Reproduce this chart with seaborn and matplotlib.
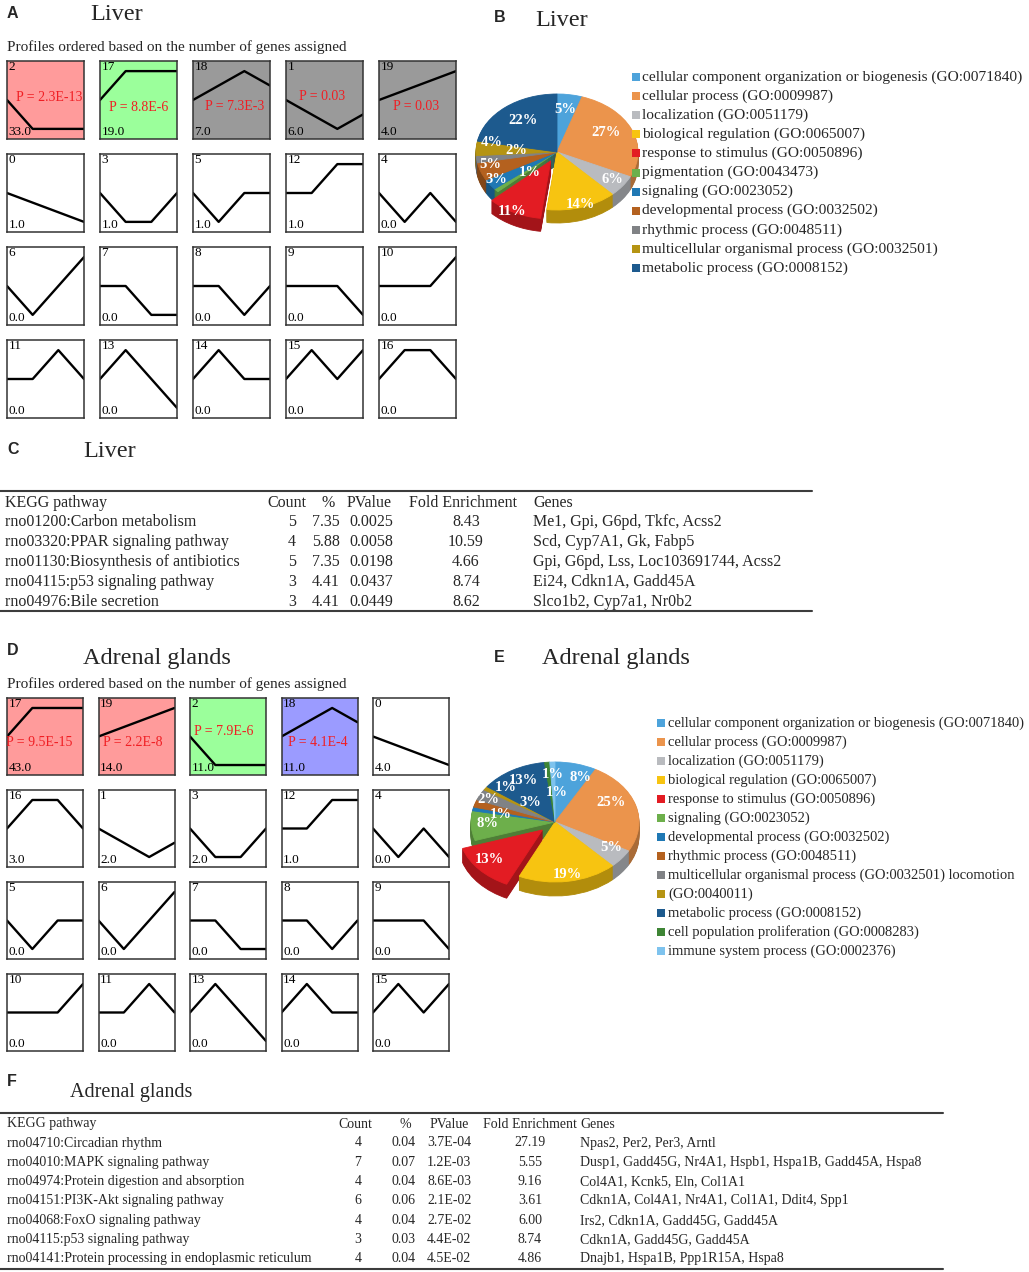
import numpy as np
import pandas as pd
import matplotlib
matplotlib.use("Agg")
import matplotlib.pyplot as plt
import matplotlib.colors as mcolors
from matplotlib.patches import Rectangle
import seaborn as sns

sns.set_theme(style="white")
plt.rcParams['font.family'] = ['Liberation Serif', 'DejaVu Serif']

W, H = 1029, 1272

# ---------------- DATA ----------------
# STEM model profiles (4 time points)
profile_shapes = {
    0: [0, -1, -2, -3], 1: [0, -1, -2, -1], 2: [0, -1, -1, -1], 3: [0, -1, -1, 0],
    4: [0, -1, 0, -1], 5: [0, -1, 0, 0], 6: [0, -1, 0, 1], 7: [0, 0, -1, -1],
    8: [0, 0, -1, 0], 9: [0, 0, 0, -1], 10: [0, 0, 0, 1], 11: [0, 0, 1, 0],
    12: [0, 0, 1, 1], 13: [0, 1, 0, -1], 14: [0, 1, 0, 0], 15: [0, 1, 0, 1],
    16: [0, 1, 1, 0], 17: [0, 1, 1, 1], 18: [0, 1, 2, 1], 19: [0, 1, 2, 3],
}

liver_order = [2, 17, 18, 1, 19, 0, 3, 5, 12, 4, 6, 7, 8, 9, 10, 11, 13, 14, 15, 16]
liver_counts = [33, 19, 7, 6, 4, 1, 1, 1, 1, 0, 0, 0, 0, 0, 0, 0, 0, 0, 0, 0]
liver_pvals = ["2.3E-13", "8.8E-6", "7.3E-3", "0.03", "0.03"]
liver_kinds = ["red", "green", "gray", "gray", "gray"] + ["none"] * 15

adrenal_order = [17, 19, 2, 18, 0, 16, 1, 3, 12, 4, 5, 6, 7, 8, 9, 10, 11, 13, 14, 15]
adrenal_counts = [43, 14, 11, 11, 4, 3, 2, 2, 1, 0, 0, 0, 0, 0, 0, 0, 0, 0, 0, 0]
adrenal_pvals = ["9.5E-15", "2.2E-8", "7.9E-6", "4.1E-4"]
adrenal_kinds = ["red", "red", "green", "blue"] + ["none"] * 16

liver_go_terms = [
    "cellular component organization or biogenesis (GO:0071840)",
    "cellular process (GO:0009987)",
    "localization (GO:0051179)",
    "biological regulation (GO:0065007)",
    "response to stimulus (GO:0050896)",
    "pigmentation (GO:0043473)",
    "signaling (GO:0023052)",
    "developmental process (GO:0032502)",
    "rhythmic process (GO:0048511)",
    "multicellular organismal process (GO:0032501)",
    "metabolic process (GO:0008152)",
]
liver_go_pct = [5, 27, 6, 14, 11, 1, 3, 5, 2, 4, 22]
liver_go_colors = ["#4DA3DB", "#EB944C", "#B9BBBF", "#F7C411", "#E31C23", "#6DAF4B",
                   "#1F78B4", "#B4611F", "#808285", "#B59413", "#1D5A8E"]

adrenal_go_terms = [
    "cellular component organization or biogenesis (GO:0071840)",
    "cellular process (GO:0009987)",
    "localization (GO:0051179)",
    "biological regulation (GO:0065007)",
    "response to stimulus (GO:0050896)",
    "signaling (GO:0023052)",
    "developmental process (GO:0032502)",
    "rhythmic process (GO:0048511)",
    "multicellular organismal process (GO:0032501) locomotion",
    "(GO:0040011)",
    "metabolic process (GO:0008152)",
    "cell population proliferation (GO:0008283)",
    "immune system process (GO:0002376)",
]
adrenal_go_pct = [8, 25, 5, 19, 13, 8, 1, 2, 3, 1, 13, 1, 1]
adrenal_go_colors = ["#4DA3DB", "#EB944C", "#B9BBBF", "#F7C411", "#E31C23", "#6DAF4B",
                     "#1F78B4", "#B4611F", "#808285", "#B59413", "#1D5A8E", "#3E8535",
                     "#7EC3EE"]

table_header = ["KEGG pathway", "Count", "%", "PValue", "Fold Enrichment", "Genes"]

liver_pathways = ["rno01200:Carbon metabolism", "rno03320:PPAR signaling pathway",
                  "rno01130:Biosynthesis of antibiotics", "rno04115:p53 signaling pathway",
                  "rno04976:Bile secretion"]
liver_kegg_count = [5, 4, 5, 3, 3]
liver_kegg_pct = [7.35, 5.88, 7.35, 4.41, 4.41]
liver_kegg_p = [0.0025, 0.0058, 0.0198, 0.0437, 0.0449]
liver_kegg_fold = [8.43, 10.59, 4.66, 8.74, 8.62]
liver_kegg_genes = ["Me1, Gpi, G6pd, Tkfc, Acss2", "Scd, Cyp7A1, Gk, Fabp5",
                    "Gpi, G6pd, Lss, Loc103691744, Acss2", "Ei24, Cdkn1A, Gadd45A",
                    "Slco1b2, Cyp7a1, Nr0b2"]

adrenal_pathways = ["rno04710:Circadian rhythm", "rno04010:MAPK signaling pathway",
                    "rno04974:Protein digestion and absorption",
                    "rno04151:PI3K-Akt signaling pathway", "rno04068:FoxO signaling pathway",
                    "rno04115:p53 signaling pathway",
                    "rno04141:Protein processing in endoplasmic reticulum"]
adrenal_kegg_count = [4, 7, 4, 6, 4, 3, 4]
adrenal_kegg_pct = [0.04, 0.07, 0.04, 0.06, 0.04, 0.03, 0.04]
adrenal_kegg_p = [3.7e-4, 1.2e-3, 8.6e-3, 2.1e-2, 2.7e-2, 4.4e-2, 4.5e-2]
adrenal_kegg_fold = [27.19, 5.55, 9.16, 3.61, 6.00, 8.74, 4.86]
adrenal_kegg_genes = ["Npas2, Per2, Per3, Arntl",
                      "Dusp1, Gadd45G, Nr4A1, Hspb1, Hspa1B, Gadd45A, Hspa8",
                      "Col4A1, Kcnk5, Eln, Col1A1",
                      "Cdkn1A, Col4A1, Nr4A1, Col1A1, Ddit4, Spp1",
                      "Irs2, Cdkn1A, Gadd45G, Gadd45A",
                      "Cdkn1A, Gadd45G, Gadd45A",
                      "Dnajb1, Hspa1B, Ppp1R15A, Hspa8"]

# ---------------- STYLE / LAYOUT ----------------
fill_colors = {"red": "#FF9B9B", "green": "#9BFF9B", "gray": "#9A9A9A",
               "blue": "#9B9BFF", "none": "#FFFFFF"}
p_color = "#F01E23"
SANS_BOLD = dict(family=['Liberation Sans', 'DejaVu Sans'], weight='bold')

# percentage label positions on the pie top face (in radius units)
liver_label_pos = [(0.10, 0.74), (0.60, 0.33), (0.68, -0.47), (0.29, -0.90),
                   (-0.56, -1.03), (-0.33, -0.36), (-0.75, -0.48), (-0.82, -0.21),
                   (-0.50, 0.02), (-0.80, 0.16), (-0.42, 0.55)]
adrenal_label_pos = [(0.30, 0.75), (0.67, 0.32), (0.67, -0.42), (0.15, -0.88),
                     (-0.78, -0.63), (-0.80, -0.02), (-0.64, 0.13), (-0.79, 0.38),
                     (-0.29, 0.32), (-0.58, 0.58), (-0.38, 0.70), (-0.03, 0.80),
                     (0.02, 0.50)]

fig = plt.figure(figsize=(W / 100, H / 100), dpi=100)


def px(x, y, w, h):
    return [x / W, 1 - (y + h) / H, w / W, h / H]


def ftxt(x, y, s, **kw):
    kw.setdefault('va', 'center')
    fig.text(x / W, 1 - y / H, s, **kw)


def draw_profiles(order, counts, pvals, kinds, x0, y0, bw, bh, sx, sy, p_pos):
    for i, pid in enumerate(order):
        r, c = divmod(i, 5)
        ax = fig.add_axes(px(x0 + c * sx, y0 + r * sy, bw, bh))
        shape = np.array(profile_shapes[pid], dtype=float)
        df = pd.DataFrame({"t": np.arange(4), "v": shape / np.abs(shape).max()})
        sns.lineplot(data=df, x="t", y="v", ax=ax, color="black", lw=1.7)
        ax.set_facecolor(fill_colors[kinds[i]])
        ax.set_xlim(0, 3)
        ax.set_ylim(-1.35, 1.35)
        ax.set(xlabel=None, ylabel=None, xticks=[], yticks=[])
        for sp in ax.spines.values():
            sp.set_visible(True)
            sp.set_color("#333333")
            sp.set_linewidth(1.1)
        ax.text(0.02, 0.995, str(pid), transform=ax.transAxes, ha="left", va="top",
                fontsize=9.5, color="black")
        ax.text(0.02, 0.01, f"{counts[i]:.1f}", transform=ax.transAxes, ha="left",
                va="bottom", fontsize=9.5, color="black")
        if i < len(pvals):
            fx, fy = p_pos[i]
            ax.text(fx, 1 - fy, f"P = {pvals[i]}", transform=ax.transAxes, ha="center",
                    va="center", fontsize=10, color=p_color)


def darken(c, f=0.72):
    r, g, b = mcolors.to_rgb(c)
    return (r * f, g * f, b * f)


def draw_pie(cx, cy, rx, ry, thick, vals, colors, explode_idx, expl, label_pos, fs):
    pad = 1.35
    th = thick / ry
    ax = fig.add_axes(px(cx - rx * pad, cy - ry * pad, 2 * rx * pad,
                         (2 * pad + th) * ry))
    explode = [expl if i == explode_idx else 0 for i in range(len(vals))]
    dark = [darken(c) for c in colors]
    n = int(thick)
    for k in range(n, 0, -1):
        wedges, _ = ax.pie(vals, colors=dark, startangle=90, counterclock=False,
                           explode=explode, center=(0, -k * th / n),
                           wedgeprops=dict(linewidth=0.6))
        for wdg in wedges:
            wdg.set_edgecolor(wdg.get_facecolor())
    wedges, _ = ax.pie(vals, colors=colors, startangle=90, counterclock=False,
                       explode=explode, wedgeprops=dict(linewidth=0.6))
    for wdg in wedges:
        wdg.set_edgecolor(wdg.get_facecolor())
    for v, (lx, ly) in zip(vals, label_pos):
        ax.text(lx, ly, f"{v}%", ha="center", va="center", color="white",
                fontweight="bold", fontsize=fs)
    ax.set_xlim(-pad, pad)
    ax.set_ylim(-pad - th, pad)
    ax.set_aspect('auto')
    ax.axis('off')


def draw_legend(terms, colors, sq_x, txt_x, y0, dy, fs, sq=8):
    ax = fig.add_axes([0, 0, 1, 1], zorder=5)
    ax.set_xlim(0, W)
    ax.set_ylim(H, 0)
    ax.axis('off')
    for i, (t, c) in enumerate(zip(terms, colors)):
        y = y0 + i * dy
        ax.add_patch(Rectangle((sq_x, y - sq / 2), sq, sq, facecolor=c, edgecolor='none'))
        ax.text(txt_x, y, t, ha="left", va="center", fontsize=fs)


def draw_table(xl, xr, y_top, y_bot, header_y, row_y0, row_h, colspec, header, rows, fs):
    ax = fig.add_axes(px(0, y_top - 4, W, y_bot - y_top + 8))
    ax.set_xlim(0, W)
    ax.set_ylim(y_bot + 4, y_top - 4)
    ax.axis('off')
    ax.plot([xl, xr], [y_top, y_top], color="#3C3C3C", lw=1.5)
    ax.plot([xl, xr], [y_bot, y_bot], color="#3C3C3C", lw=1.5)
    for j, (hx, hha, vx, vha) in enumerate(colspec):
        ax.text(hx, header_y, header[j], ha=hha, va="center", fontsize=fs)
        for i, row in enumerate(rows):
            ax.text(vx, row_y0 + i * row_h, row[j], ha=vha, va="center", fontsize=fs)


# ---------------- PANEL A ----------------
ftxt(7, 14, "A", fontsize=11.5, **SANS_BOLD)
ftxt(90, 15, "Liver", fontsize=17.5)
ftxt(7, 47, "Profiles ordered based on the number of genes assigned", fontsize=11)
draw_profiles(liver_order, liver_counts, liver_pvals, liver_kinds,
              7, 61, 77, 78, 93, 93,
              [(0.55, 0.47), (0.5, 0.59), (0.54, 0.58), (0.47, 0.46), (0.48, 0.58)])

# ---------------- PANEL B ----------------
ftxt(494, 18, "B", fontsize=11.5, **SANS_BOLD)
ftxt(535, 20, "Liver", fontsize=17.5)
draw_pie(557, 152, 81, 58, 13, liver_go_pct, liver_go_colors, 4, 0.17,
         liver_label_pos, 10.5)
draw_legend(liver_go_terms, liver_go_colors, 632, 642, 77, 19.1, 11.05)

# ---------------- PANEL C ----------------
ftxt(7, 449, "C", fontsize=11.5, **SANS_BOLD)
ftxt(83, 451, "Liver", fontsize=17.5)
liver_rows = [[liver_pathways[i], str(liver_kegg_count[i]), f"{liver_kegg_pct[i]:.2f}",
               f"{liver_kegg_p[i]:.4f}", f"{liver_kegg_fold[i]:.2f}", liver_kegg_genes[i]]
              for i in range(len(liver_pathways))]
draw_table(0, 812, 491, 611, 503, 522, 20,
           [(5, "left", 5, "left"), (287, "center", 292, "center"),
            (328, "center", 340, "right"), (347, "left", 349, "left"),
            (463, "center", 466, "center"), (533, "left", 533, "left")],
           table_header, liver_rows, 11.5)

# ---------------- PANEL D ----------------
ftxt(7, 650, "D", fontsize=11.5, **SANS_BOLD)
ftxt(83, 658, "Adrenal glands", fontsize=17.5)
ftxt(7, 684, "Profiles ordered based on the number of genes assigned", fontsize=11)
draw_profiles(adrenal_order, adrenal_counts, adrenal_pvals, adrenal_kinds,
              7, 698, 76, 77, 91.5, 92,
              [(0.43, 0.58), (0.45, 0.58), (0.44, 0.44), (0.48, 0.58)])

# ---------------- PANEL E ----------------
ftxt(494, 657, "E", fontsize=11.5, **SANS_BOLD)
ftxt(542, 658, "Adrenal glands", fontsize=17.5)
draw_pie(555, 822, 84, 60, 14, adrenal_go_pct, adrenal_go_colors, 4, 0.2,
         adrenal_label_pos, 10.5)
draw_legend(adrenal_go_terms, adrenal_go_colors, 657, 668, 723, 19.0, 10.45)

# ---------------- PANEL F ----------------
ftxt(7, 1082, "F", fontsize=11.5, **SANS_BOLD)
ftxt(70, 1093, "Adrenal glands", fontsize=14.5)
adrenal_rows = [[adrenal_pathways[i], str(adrenal_kegg_count[i]),
                 f"{adrenal_kegg_pct[i]:.2f}", f"{adrenal_kegg_p[i]:.1E}",
                 f"{adrenal_kegg_fold[i]:.2f}", adrenal_kegg_genes[i]]
                for i in range(len(adrenal_pathways))]
draw_table(0, 943, 1113, 1269, 1124, 1143, 19.3,
           [(7, "left", 7, "left"), (355, "center", 358, "center"),
            (405, "center", 416, "right"), (430, "left", 427, "left"),
            (530, "center", 530, "center"), (580, "left", 580, "left")],
           table_header, adrenal_rows, 10)

fig.savefig("out.png", dpi=100, facecolor="white")
